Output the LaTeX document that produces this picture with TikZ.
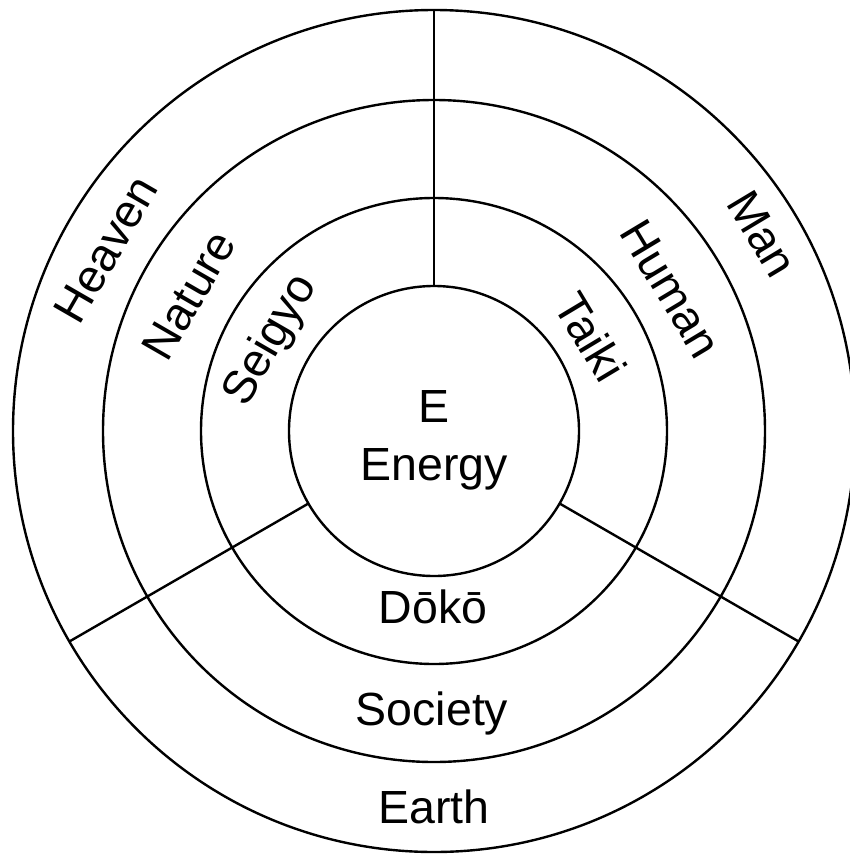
\documentclass[tikz,border=0pt]{standalone}
\usepackage{fontspec}
\setmainfont{Liberation Sans}
\usetikzlibrary{calc}
\begin{document}
\begin{tikzpicture}[x=1pt,y=1pt,line width=2.4pt,
  ring/.style={draw,circle,inner sep=0pt,outer sep=0pt},
  lbl/.style={font=\fontsize{46.5}{50}\selectfont,inner sep=0pt}]
\useasboundingbox (0,0) rectangle (850,-854);
\coordinate (O) at (434,-431);
\node[ring,minimum size=290pt] (c1) at (O) {};
\node[ring,minimum size=466pt] (c2) at (O) {};
\node[ring,minimum size=662pt] (c3) at (O) {};
\node[ring,minimum size=842pt] (c4) at (O) {};
\draw (c1.90) -- (c4.90);
\draw (c1.210) -- (c4.210);
\draw (c1.330) -- (c4.330);
% centre
\node[lbl,anchor=base] (e) at (434,-422) {E};
\node[lbl,anchor=base] (energy) at (434,-480) {Energy};
% bottom sector
\node[lbl,anchor=base] (doko) at (433,-623) {Dōkō};
\node[lbl,anchor=base] (society) at (432,-725) {Society};
\node[lbl,anchor=base] (earth) at (434,-823) {Earth};
% left sector
\node[lbl,rotate=60] (seigyo) at ($(O)+(151:186)$) {Seigyo};
\node[lbl,rotate=60] (nature) at ($(O)+(151:280)$) {Nature};
\node[lbl,rotate=60] (heaven) at ($(O)+(151:375)$) {Heaven};
% right sector
\node[lbl,rotate=-59] (taiki) at ($(O)+(31:183)$) {Taiki};
\node[lbl,rotate=-59] (human) at ($(O)+(31:276)$) {Human};
\node[lbl,rotate=-59] (man) at ($(O)+(31:383)$) {Man};
\end{tikzpicture}
\end{document}
